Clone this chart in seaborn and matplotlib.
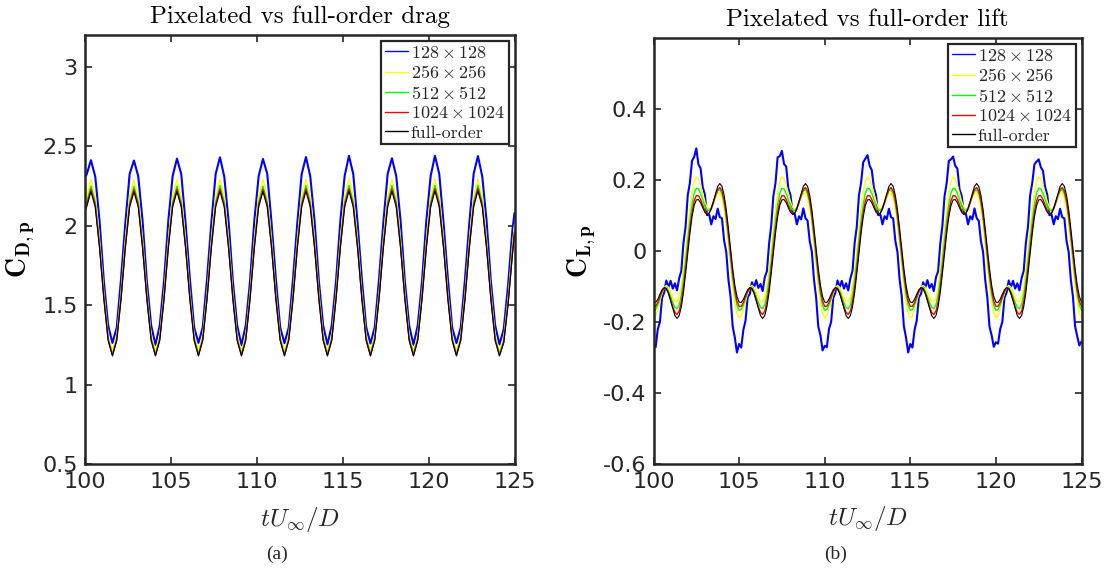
import numpy as np
import matplotlib
matplotlib.use("Agg")
import matplotlib.pyplot as plt
import seaborn as sns

# ---------------- data ----------------
series_labels = [r"$128\times128$", r"$256\times256$", r"$512\times512$",
                 r"$1024\times1024$", "full-order"]
series_colors = ["#0000ff", "#ffff00", "#00ff00", "#ff0000", "#000000"]

x_ticks = [100, 105, 110, 115, 120, 125]
x_tick_labels = ["100", "105", "110", "115", "120", "125"]
drag_yticks = [0.5, 1, 1.5, 2, 2.5, 3]
drag_ytick_labels = ["0.5", "1", "1.5", "2", "2.5", "3"]
lift_yticks = [-0.6, -0.4, -0.2, 0, 0.2, 0.4]
lift_ytick_labels = ["-0.6", "-0.4", "-0.2", "0", "0.2", "0.4"]

# drag samples (tU/D): 100, 100.125, 100.375, ..., 124.875, 125
t_drag = np.concatenate(([100.0], np.arange(100.125, 125.0, 0.25), [125.0]))

cd_128 = [2.300, 2.322, 2.412, 2.309, 2.031, 1.652, 1.372, 1.262,
          1.360, 1.668, 2.018, 2.326, 2.410, 2.311, 2.032, 1.652, 1.374, 1.250,
          1.372, 1.654, 2.033, 2.312, 2.422, 2.326, 2.018, 1.668, 1.360, 1.262,
          1.361, 1.667, 2.019, 2.325, 2.430, 2.310, 2.031, 1.653, 1.373, 1.248,
          1.373, 1.653, 2.032, 2.311, 2.420, 2.327, 2.017, 1.667, 1.361, 1.260,
          1.360, 1.666, 2.020, 2.324, 2.432, 2.312, 2.030, 1.654, 1.372, 1.252,
          1.372, 1.654, 2.031, 2.313, 2.440, 2.325, 2.019, 1.666, 1.362, 1.258,
          1.361, 1.667, 2.019, 2.326, 2.424, 2.311, 2.032, 1.653, 1.373, 1.250,
          1.373, 1.652, 2.033, 2.312, 2.440, 2.326, 2.018, 1.668, 1.360, 1.261,
          1.360, 1.668, 2.018, 2.327, 2.438, 2.310, 2.033, 1.652, 1.374, 1.252,
          1.350, 1.624, 1.968, 2.080]
cd_256 = [2.155, 2.187, 2.290, 2.187, 1.916, 1.581, 1.310, 1.207,
          1.310, 1.581, 1.916, 2.187, 2.288, 2.187, 1.916, 1.581, 1.310, 1.207,
          1.310, 1.581, 1.916, 2.187, 2.290, 2.187, 1.916, 1.581, 1.310, 1.207,
          1.310, 1.581, 1.916, 2.187, 2.292, 2.187, 1.916, 1.581, 1.310, 1.207,
          1.310, 1.581, 1.916, 2.187, 2.290, 2.187, 1.916, 1.581, 1.310, 1.207,
          1.310, 1.581, 1.916, 2.187, 2.293, 2.187, 1.916, 1.581, 1.310, 1.207,
          1.310, 1.581, 1.916, 2.187, 2.294, 2.187, 1.916, 1.581, 1.310, 1.207,
          1.310, 1.581, 1.916, 2.187, 2.292, 2.187, 1.916, 1.581, 1.310, 1.207,
          1.310, 1.581, 1.916, 2.187, 2.294, 2.187, 1.916, 1.581, 1.310, 1.207,
          1.310, 1.581, 1.916, 2.187, 2.295, 2.187, 1.916, 1.581, 1.310, 1.207,
          1.294, 1.543, 1.868, 2.008]
cd_512 = [2.115, 2.149, 2.250, 2.149, 1.885, 1.557, 1.293, 1.192,
          1.293, 1.557, 1.885, 2.149, 2.248, 2.149, 1.885, 1.557, 1.293, 1.192,
          1.293, 1.557, 1.885, 2.149, 2.250, 2.149, 1.885, 1.557, 1.293, 1.192,
          1.293, 1.557, 1.885, 2.149, 2.252, 2.149, 1.885, 1.557, 1.293, 1.192,
          1.293, 1.557, 1.885, 2.149, 2.250, 2.149, 1.885, 1.557, 1.293, 1.192,
          1.293, 1.557, 1.885, 2.149, 2.253, 2.149, 1.885, 1.557, 1.293, 1.192,
          1.293, 1.557, 1.885, 2.149, 2.254, 2.149, 1.885, 1.557, 1.293, 1.192,
          1.293, 1.557, 1.885, 2.149, 2.252, 2.149, 1.885, 1.557, 1.293, 1.192,
          1.293, 1.557, 1.885, 2.149, 2.254, 2.149, 1.885, 1.557, 1.293, 1.192,
          1.293, 1.557, 1.885, 2.149, 2.255, 2.149, 1.885, 1.557, 1.293, 1.192,
          1.277, 1.520, 1.837, 1.975]
cd_1024 = [2.095, 2.131, 2.230, 2.131, 1.869, 1.544, 1.282, 1.183,
           1.282, 1.544, 1.869, 2.131, 2.228, 2.131, 1.869, 1.544, 1.282, 1.183,
           1.282, 1.544, 1.869, 2.131, 2.230, 2.131, 1.869, 1.544, 1.282, 1.183,
           1.282, 1.544, 1.869, 2.131, 2.232, 2.131, 1.869, 1.544, 1.282, 1.183,
           1.282, 1.544, 1.869, 2.131, 2.230, 2.131, 1.869, 1.544, 1.282, 1.183,
           1.282, 1.544, 1.869, 2.131, 2.233, 2.131, 1.869, 1.544, 1.282, 1.183,
           1.282, 1.544, 1.869, 2.131, 2.234, 2.131, 1.869, 1.544, 1.282, 1.183,
           1.282, 1.544, 1.869, 2.131, 2.232, 2.131, 1.869, 1.544, 1.282, 1.183,
           1.282, 1.544, 1.869, 2.131, 2.234, 2.131, 1.869, 1.544, 1.282, 1.183,
           1.282, 1.544, 1.869, 2.131, 2.235, 2.131, 1.869, 1.544, 1.282, 1.183,
           1.267, 1.508, 1.822, 1.958]
cd_full = [2.080, 2.117, 2.215, 2.117, 1.858, 1.537, 1.278, 1.180,
           1.278, 1.537, 1.858, 2.117, 2.213, 2.117, 1.858, 1.537, 1.278, 1.180,
           1.278, 1.537, 1.858, 2.117, 2.215, 2.117, 1.858, 1.537, 1.278, 1.180,
           1.278, 1.537, 1.858, 2.117, 2.217, 2.117, 1.858, 1.537, 1.278, 1.180,
           1.278, 1.537, 1.858, 2.117, 2.215, 2.117, 1.858, 1.537, 1.278, 1.180,
           1.278, 1.537, 1.858, 2.117, 2.218, 2.117, 1.858, 1.537, 1.278, 1.180,
           1.278, 1.537, 1.858, 2.117, 2.219, 2.117, 1.858, 1.537, 1.278, 1.180,
           1.278, 1.537, 1.858, 2.117, 2.217, 2.117, 1.858, 1.537, 1.278, 1.180,
           1.278, 1.537, 1.858, 2.117, 2.219, 2.117, 1.858, 1.537, 1.278, 1.180,
           1.278, 1.537, 1.858, 2.117, 2.220, 2.117, 1.858, 1.537, 1.278, 1.180,
           1.263, 1.501, 1.811, 1.946]

# lift samples (tU/D): 100 .. 125 every 0.125
t_lift = np.arange(100.0, 125.0001, 0.125)

cl_128 = [
    -0.267, -0.271, -0.220, -0.200, -0.132, -0.117, -0.083, -0.102, -0.084, -0.106,
    -0.091, -0.111, -0.077, -0.056, 0.023, 0.069, 0.157, 0.192, 0.254, 0.265,
    0.289, 0.244, 0.233, 0.180, 0.159, 0.101, 0.103, 0.075, 0.098, 0.090,
    0.119, 0.095, 0.092, 0.029, -0.003, -0.080, -0.128, -0.212, -0.244, -0.286,
    -0.262, -0.272, -0.222, -0.196, -0.131, -0.121, -0.088, -0.103, -0.082, -0.104,
    -0.093, -0.113, -0.074, -0.057, 0.020, 0.071, 0.154, 0.191, 0.264, 0.267,
    0.282, 0.245, 0.238, 0.176, 0.158, 0.107, 0.104, 0.075, 0.098, 0.089,
    0.120, 0.093, 0.085, 0.028, -0.002, -0.081, -0.131, -0.213, -0.237, -0.280,
    -0.267, -0.271, -0.220, -0.200, -0.132, -0.117, -0.083, -0.102, -0.084, -0.106,
    -0.091, -0.111, -0.077, -0.056, 0.023, 0.069, 0.157, 0.192, 0.250, 0.260,
    0.270, 0.240, 0.228, 0.178, 0.157, 0.101, 0.103, 0.075, 0.098, 0.090,
    0.119, 0.095, 0.092, 0.029, -0.003, -0.080, -0.128, -0.212, -0.244, -0.286,
    -0.262, -0.272, -0.222, -0.196, -0.131, -0.121, -0.088, -0.103, -0.082, -0.104,
    -0.093, -0.113, -0.074, -0.057, 0.020, 0.071, 0.154, 0.191, 0.254, 0.258,
    0.266, 0.240, 0.232, 0.174, 0.156, 0.107, 0.104, 0.075, 0.098, 0.089,
    0.120, 0.093, 0.085, 0.028, -0.002, -0.081, -0.131, -0.213, -0.237, -0.270,
    -0.257, -0.261, -0.220, -0.200, -0.132, -0.117, -0.083, -0.102, -0.084, -0.106,
    -0.091, -0.111, -0.077, -0.056, 0.023, 0.069, 0.157, 0.192, 0.244, 0.252,
    0.258, 0.236, 0.226, 0.180, 0.159, 0.101, 0.103, 0.075, 0.098, 0.090,
    0.119, 0.095, 0.092, 0.029, -0.003, -0.080, -0.128, -0.212, -0.240, -0.266,
    -0.255]
cl_256 = [
    -0.188, -0.183, -0.165, -0.142, -0.119, -0.103, -0.097, -0.102, -0.115, -0.130,
    -0.142, -0.143, -0.130, -0.099, -0.053, 0.004, 0.064, 0.121, 0.167, 0.196,
    0.208, 0.203, 0.185, 0.162, 0.139, 0.123, 0.117, 0.122, 0.135, 0.150,
    0.162, 0.163, 0.150, 0.119, 0.073, 0.016, -0.044, -0.101, -0.147, -0.176,
    -0.188, -0.183, -0.165, -0.142, -0.119, -0.103, -0.097, -0.102, -0.115, -0.130,
    -0.142, -0.143, -0.130, -0.099, -0.053, 0.004, 0.064, 0.121, 0.167, 0.196,
    0.208, 0.203, 0.185, 0.162, 0.139, 0.123, 0.117, 0.122, 0.135, 0.150,
    0.162, 0.163, 0.150, 0.119, 0.073, 0.016, -0.044, -0.101, -0.147, -0.176,
    -0.188, -0.183, -0.165, -0.142, -0.119, -0.103, -0.097, -0.102, -0.115, -0.130,
    -0.142, -0.143, -0.130, -0.099, -0.053, 0.004, 0.064, 0.121, 0.167, 0.196,
    0.208, 0.203, 0.185, 0.162, 0.139, 0.123, 0.117, 0.122, 0.135, 0.150,
    0.162, 0.163, 0.150, 0.119, 0.073, 0.016, -0.044, -0.101, -0.147, -0.176,
    -0.188, -0.183, -0.165, -0.142, -0.119, -0.103, -0.097, -0.102, -0.115, -0.130,
    -0.142, -0.143, -0.130, -0.099, -0.053, 0.004, 0.064, 0.121, 0.167, 0.196,
    0.208, 0.203, 0.185, 0.162, 0.139, 0.123, 0.117, 0.122, 0.135, 0.150,
    0.162, 0.163, 0.150, 0.119, 0.073, 0.016, -0.044, -0.101, -0.147, -0.176,
    -0.188, -0.183, -0.165, -0.142, -0.119, -0.103, -0.097, -0.102, -0.115, -0.130,
    -0.142, -0.143, -0.130, -0.099, -0.053, 0.004, 0.064, 0.121, 0.167, 0.196,
    0.208, 0.203, 0.185, 0.162, 0.139, 0.123, 0.117, 0.122, 0.135, 0.150,
    0.162, 0.163, 0.150, 0.119, 0.073, 0.016, -0.044, -0.101, -0.147, -0.176,
    -0.188]
cl_512 = [
    -0.167, -0.165, -0.152, -0.134, -0.116, -0.105, -0.104, -0.112, -0.128, -0.145,
    -0.159, -0.163, -0.151, -0.124, -0.080, -0.027, 0.032, 0.087, 0.132, 0.163,
    0.177, 0.175, 0.162, 0.144, 0.126, 0.115, 0.114, 0.122, 0.138, 0.155,
    0.169, 0.173, 0.161, 0.134, 0.090, 0.037, -0.022, -0.077, -0.122, -0.153,
    -0.167, -0.165, -0.152, -0.134, -0.116, -0.105, -0.104, -0.112, -0.128, -0.145,
    -0.159, -0.163, -0.151, -0.124, -0.080, -0.027, 0.032, 0.087, 0.132, 0.163,
    0.177, 0.175, 0.162, 0.144, 0.126, 0.115, 0.114, 0.122, 0.138, 0.155,
    0.169, 0.173, 0.161, 0.134, 0.090, 0.037, -0.022, -0.077, -0.122, -0.153,
    -0.167, -0.165, -0.152, -0.134, -0.116, -0.105, -0.104, -0.112, -0.128, -0.145,
    -0.159, -0.163, -0.151, -0.124, -0.080, -0.027, 0.032, 0.087, 0.132, 0.163,
    0.177, 0.175, 0.162, 0.144, 0.126, 0.115, 0.114, 0.122, 0.138, 0.155,
    0.169, 0.173, 0.161, 0.134, 0.090, 0.037, -0.022, -0.077, -0.122, -0.153,
    -0.167, -0.165, -0.152, -0.134, -0.116, -0.105, -0.104, -0.112, -0.128, -0.145,
    -0.159, -0.163, -0.151, -0.124, -0.080, -0.027, 0.032, 0.087, 0.132, 0.163,
    0.177, 0.175, 0.162, 0.144, 0.126, 0.115, 0.114, 0.122, 0.138, 0.155,
    0.169, 0.173, 0.161, 0.134, 0.090, 0.037, -0.022, -0.077, -0.122, -0.153,
    -0.167, -0.165, -0.152, -0.134, -0.116, -0.105, -0.104, -0.112, -0.128, -0.145,
    -0.159, -0.163, -0.151, -0.124, -0.080, -0.027, 0.032, 0.087, 0.132, 0.163,
    0.177, 0.175, 0.162, 0.144, 0.126, 0.115, 0.114, 0.122, 0.138, 0.155,
    0.169, 0.173, 0.161, 0.134, 0.090, 0.037, -0.022, -0.077, -0.122, -0.153,
    -0.167]
cl_1024 = [
    -0.156, -0.156, -0.145, -0.129, -0.114, -0.105, -0.107, -0.118, -0.136, -0.157,
    -0.173, -0.179, -0.169, -0.143, -0.102, -0.049, 0.009, 0.064, 0.109, 0.141,
    0.156, 0.156, 0.145, 0.129, 0.114, 0.105, 0.107, 0.118, 0.136, 0.157,
    0.173, 0.179, 0.169, 0.143, 0.102, 0.049, -0.009, -0.064, -0.109, -0.141,
    -0.156, -0.156, -0.145, -0.129, -0.114, -0.105, -0.107, -0.118, -0.136, -0.157,
    -0.173, -0.179, -0.169, -0.143, -0.102, -0.049, 0.009, 0.064, 0.109, 0.141,
    0.156, 0.156, 0.145, 0.129, 0.114, 0.105, 0.107, 0.118, 0.136, 0.157,
    0.173, 0.179, 0.169, 0.143, 0.102, 0.049, -0.009, -0.064, -0.109, -0.141,
    -0.156, -0.156, -0.145, -0.129, -0.114, -0.105, -0.107, -0.118, -0.136, -0.157,
    -0.173, -0.179, -0.169, -0.143, -0.102, -0.049, 0.009, 0.064, 0.109, 0.141,
    0.156, 0.156, 0.145, 0.129, 0.114, 0.105, 0.107, 0.118, 0.136, 0.157,
    0.173, 0.179, 0.169, 0.143, 0.102, 0.049, -0.009, -0.064, -0.109, -0.141,
    -0.156, -0.156, -0.145, -0.129, -0.114, -0.105, -0.107, -0.118, -0.136, -0.157,
    -0.173, -0.179, -0.169, -0.143, -0.102, -0.049, 0.009, 0.064, 0.109, 0.141,
    0.156, 0.156, 0.145, 0.129, 0.114, 0.105, 0.107, 0.118, 0.136, 0.157,
    0.173, 0.179, 0.169, 0.143, 0.102, 0.049, -0.009, -0.064, -0.109, -0.141,
    -0.156, -0.156, -0.145, -0.129, -0.114, -0.105, -0.107, -0.118, -0.136, -0.157,
    -0.173, -0.179, -0.169, -0.143, -0.102, -0.049, 0.009, 0.064, 0.109, 0.141,
    0.156, 0.156, 0.145, 0.129, 0.114, 0.105, 0.107, 0.118, 0.136, 0.157,
    0.173, 0.179, 0.169, 0.143, 0.102, 0.049, -0.009, -0.064, -0.109, -0.141,
    -0.156]
cl_full = [
    -0.144, -0.145, -0.136, -0.122, -0.109, -0.103, -0.106, -0.120, -0.141, -0.163,
    -0.182, -0.190, -0.182, -0.157, -0.117, -0.064, -0.006, 0.049, 0.096, 0.128,
    0.144, 0.145, 0.136, 0.122, 0.109, 0.103, 0.106, 0.120, 0.141, 0.163,
    0.182, 0.190, 0.182, 0.157, 0.117, 0.064, 0.006, -0.049, -0.096, -0.128,
    -0.144, -0.145, -0.136, -0.122, -0.109, -0.103, -0.106, -0.120, -0.141, -0.163,
    -0.182, -0.190, -0.182, -0.157, -0.117, -0.064, -0.006, 0.049, 0.096, 0.128,
    0.144, 0.145, 0.136, 0.122, 0.109, 0.103, 0.106, 0.120, 0.141, 0.163,
    0.182, 0.190, 0.182, 0.157, 0.117, 0.064, 0.006, -0.049, -0.096, -0.128,
    -0.144, -0.145, -0.136, -0.122, -0.109, -0.103, -0.106, -0.120, -0.141, -0.163,
    -0.182, -0.190, -0.182, -0.157, -0.117, -0.064, -0.006, 0.049, 0.096, 0.128,
    0.144, 0.145, 0.136, 0.122, 0.109, 0.103, 0.106, 0.120, 0.141, 0.163,
    0.182, 0.190, 0.182, 0.157, 0.117, 0.064, 0.006, -0.049, -0.096, -0.128,
    -0.144, -0.145, -0.136, -0.122, -0.109, -0.103, -0.106, -0.120, -0.141, -0.163,
    -0.182, -0.190, -0.182, -0.157, -0.117, -0.064, -0.006, 0.049, 0.096, 0.128,
    0.144, 0.145, 0.136, 0.122, 0.109, 0.103, 0.106, 0.120, 0.141, 0.163,
    0.182, 0.190, 0.182, 0.157, 0.117, 0.064, 0.006, -0.049, -0.096, -0.128,
    -0.144, -0.145, -0.136, -0.122, -0.109, -0.103, -0.106, -0.120, -0.141, -0.163,
    -0.182, -0.190, -0.182, -0.157, -0.117, -0.064, -0.006, 0.049, 0.096, 0.128,
    0.144, 0.145, 0.136, 0.122, 0.109, 0.103, 0.106, 0.120, 0.141, 0.163,
    0.182, 0.190, 0.182, 0.157, 0.117, 0.064, 0.006, -0.049, -0.096, -0.128,
    -0.144]

drag_series = [cd_128, cd_256, cd_512, cd_1024, cd_full]
lift_series = [cl_128, cl_256, cl_512, cl_1024, cl_full]

# ---------------- style ----------------
sns.set_theme(style="white")
plt.rcParams.update({
    "font.family": ["DejaVu Sans"],
    "mathtext.fontset": "cm",
    "axes.unicode_minus": False,
})
INK = "#262626"
line_widths = [1.5, 1.0, 1.0, 1.0, 0.8]

W, H = 1111, 572
fig = plt.figure(figsize=(W / 100, H / 100), dpi=100)
ax1 = fig.add_axes([84.5 / W, 1 - 464 / H, 430 / W, (464 - 35) / H])
ax2 = fig.add_axes([653.5 / W, 1 - 464 / H, 428 / W, (464 - 38) / H])


def draw(ax, t, series):
    for vals, lab, col, lw in zip(series, series_labels, series_colors, line_widths):
        sns.lineplot(x=t, y=vals, ax=ax, color=col, lw=lw, label=lab,
                     sort=False, estimator=None, legend=False)


def style(ax, yticks, ylabels, ylim, title, ylabel, ylab_x):
    ax.set_xlim(100, 125)
    ax.set_ylim(*ylim)
    ax.set_xticks(x_ticks)
    ax.set_xticklabels(x_tick_labels)
    ax.set_yticks(yticks)
    ax.set_yticklabels(ylabels)
    ax.tick_params(direction="in", length=5, width=1.2, color=INK,
                   labelcolor=INK, labelsize=16, top=True, right=True,
                   bottom=True, left=True)
    ax.tick_params(axis="x", pad=6)
    ax.tick_params(axis="y", pad=5)
    for s in ax.spines.values():
        s.set_linewidth(1.8)
        s.set_color(INK)
        s.set_visible(True)
    ax.set_title(title, fontfamily="cmr10", fontsize=18, pad=9, color="black")
    ax.set_xlabel(r"$tU_\infty/D$", fontsize=18, color=INK)
    ax.xaxis.set_label_coords(0.5, -0.095)
    ax.set_ylabel(ylabel, fontsize=20, color="black")
    ax.yaxis.set_label_coords(ylab_x, 0.5)
    leg = ax.legend(loc="upper right", prop={"family": "cmr10", "size": 13},
                    frameon=True, fancybox=False, framealpha=1,
                    edgecolor=INK, handlelength=1.3, handletextpad=0.15,
                    borderpad=0.2, labelspacing=0.2, borderaxespad=0.33)
    leg.get_frame().set_linewidth(1.6)
    for h in leg.get_lines():
        h.set_linewidth(1.0)


draw(ax1, t_drag, drag_series)
draw(ax2, t_lift, lift_series)
style(ax1, drag_yticks, drag_ytick_labels, (0.5, 3.2),
      "Pixelated vs full-order drag", r"$\mathbf{C_{D,p}}$", -0.11)
style(ax2, lift_yticks, lift_ytick_labels, (-0.6, 0.6),
      "Pixelated vs full-order lift", r"$\mathbf{C_{L,p}}$", -0.13)

fig.text(277 / W, 1 - 554 / H, "(a)", ha="center", va="center",
         family="Liberation Serif", size=14)
fig.text(836 / W, 1 - 554 / H, "(b)", ha="center", va="center",
         family="Liberation Serif", size=14)

fig.savefig("out.png", dpi=100)
